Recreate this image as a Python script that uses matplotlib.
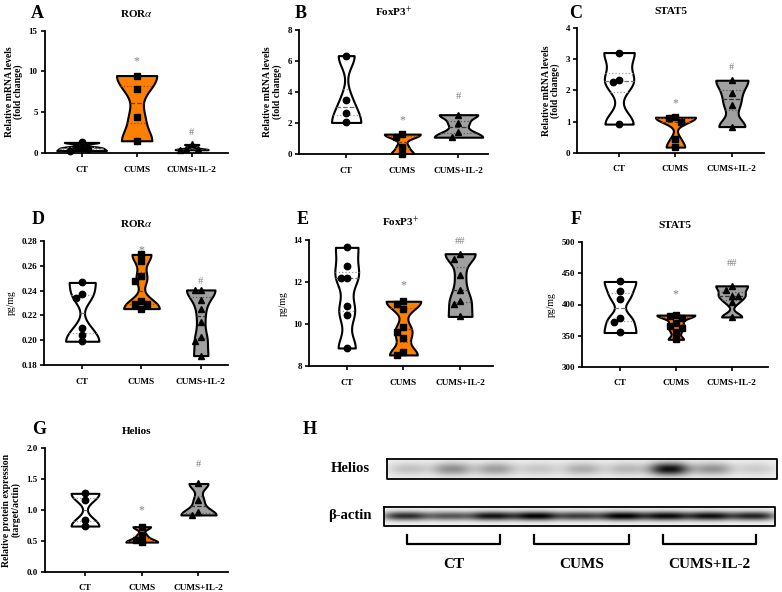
import numpy as np
import matplotlib
matplotlib.use("Agg")
import matplotlib.pyplot as plt
from matplotlib.ticker import FormatStrFormatter

plt.rcParams['font.family'] = ['Liberation Serif', 'DejaVu Serif']
plt.rcParams['mathtext.fontset'] = 'stix'

W, H = 782, 592

groups = ["CT", "CUMS", "CUMS+IL-2"]

# ---- data ----
# A: ROR-alpha mRNA (fold change)
a_ct = [1.3, 0.75, 0.6, 0.5, 0.3]
a_cums = [9.5, 7.8, 4.4, 1.5]
a_il2 = [1.05, 0.55, 0.45, 0.4]
# B: FoxP3+ mRNA
b_ct = [6.35, 3.5, 2.65, 2.05]
b_cums = [1.3, 1.12, 0.5, 0.02]
b_il2 = [2.55, 2.0, 1.45, 1.1]
# C: STAT5 mRNA
c_ct = [3.22, 2.34, 2.28, 0.92]
c_cums = [1.14, 1.12, 1.0, 0.45, 0.18]
c_il2 = [2.33, 1.93, 1.53, 0.84]
# D: ROR-alpha protein (pg/mg)
d_ct = [0.2465, 0.2372, 0.2343, 0.2102, 0.2043, 0.1993]
d_cums = [0.269, 0.264, 0.252, 0.248, 0.232, 0.229, 0.229, 0.2255]
d_il2 = [0.2405, 0.2402, 0.2328, 0.2250, 0.2146, 0.2024, 0.1995, 0.1878]
# E: FoxP3+ protein (pg/mg)
e_ct = [13.65, 12.78, 12.2, 12.2, 10.85, 10.42, 8.87]
e_cums = [11.09, 10.96, 10.72, 9.87, 9.65, 9.33, 8.68, 8.54]
e_il2 = [13.35, 13.08, 12.32, 11.63, 11.12, 10.98, 10.37]
# F: STAT5 protein (pg/mg)
f_ct = [437, 421, 409, 379, 372, 355]
f_cums = [383, 381, 379, 371, 366, 362, 355, 344]
f_il2 = [430, 423, 414, 414, 404, 380]
# G: Helios relative protein expression
g_ct = [1.27, 1.17, 0.84, 0.74]
g_cums = [0.73, 0.59, 0.51, 0.48]
g_il2 = [1.43, 1.16, 0.97, 0.92]

# significance marks: (y of '*' over CUMS, y of '#' over CUMS+IL-2)
sig_a = (11.2, 2.5); sig_b = (2.2, 3.75); sig_c = (1.58, 2.75)
sig_d = (0.2725, 0.2475); sig_e = (11.85, 13.95); sig_f = (416, 466)
sig_g = (1.0, 1.74)

# western blot band darkness per lane (9 lanes: 3 CT, 3 CUMS, 3 CUMS+IL-2)
helios_lanes = [0.18, 0.38, 0.32, 0.16, 0.26, 0.22, 0.88, 0.36, 0.14]
actin_lanes = [0.78, 0.62, 0.88, 0.95, 0.72, 0.95, 0.92, 0.90, 0.82]

# ---- styling ----
FILLS = ['white', '#FF8000', '#A0A0A0']
QCOL = ['#9a9a9a', '#9a4a00', '#555555']
MCOL = ['#707070', '#7a3a00', '#333333']
MARKERS = ['o', 's', '^']
MSIZE = [4.6, 4.2, 4.6]
BW = 0.5
SIGCOL = '#808080'

panels = [
    dict(letter='A', title=r'ROR$\alpha$', data=[a_ct, a_cums, a_il2], ylim=(0, 15), ticks=[0, 5, 10, 15],
         fmt='%d', ylabel='Relative mRNA levels\n(fold change)', ylbold=True, sig=sig_a, marks=('*', '#'),
         box=(44.7, 30.7, 228, 153), xlim=(-0.67, 2.66), widths=[0.9, 0.73, 0.6], lpos=(37, 14)),
    dict(letter='B', title=r'FoxP3$^{+}$', data=[b_ct, b_cums, b_il2], ylim=(0, 8), ticks=[0, 2, 4, 6, 8],
         fmt='%d', ylabel='Relative mRNA levels\n(fold change)', ylbold=True, sig=sig_b, marks=('*', '#'),
         box=(299, 30, 487.7, 154.3), xlim=(-0.84, 2.52), widths=[0.52, 0.64, 0.86], lpos=(301, 14)),
    dict(letter='C', title='STAT5', data=[c_ct, c_cums, c_il2], ylim=(0, 4), ticks=[0, 1, 2, 3, 4],
         fmt='%d', ylabel='Relative mRNA levels\n(fold change)', ylbold=True, sig=sig_c, marks=('*', '#'),
         box=(577.3, 28.3, 764, 152.7), xlim=(-0.74, 2.57), widths=[0.54, 0.71, 0.57], lpos=(576, 14)),
    dict(letter='D', title=r'ROR$\alpha$', data=[d_ct, d_cums, d_il2], ylim=(0.18, 0.28),
         ticks=[0.18, 0.20, 0.22, 0.24, 0.26, 0.28], fmt='%.2f', ylabel='pg/mg', ylbold=False, sig=sig_d,
         marks=('*', '#'), box=(44.3, 240.7, 228, 365.3), xlim=(-0.64, 2.46), widths=[0.56, 0.6, 0.48],
         lpos=(38.5, 220)),
    dict(letter='E', title=r'FoxP3$^{+}$', data=[e_ct, e_cums, e_il2], ylim=(8, 14), ticks=[8, 10, 12, 14],
         fmt='%d', ylabel='pg/mg', ylbold=False, sig=sig_e, marks=('*', '##'),
         box=(309.3, 240, 493, 366.3), xlim=(-0.66, 2.58), widths=[0.42, 0.61, 0.53], lpos=(303, 220)),
    dict(letter='F', title='STAT5', data=[f_ct, f_cums, f_il2], ylim=(300, 500),
         ticks=[300, 350, 400, 450, 500], fmt='%d', ylabel='pg/mg', ylbold=False, sig=sig_f, marks=('*', '##'),
         box=(582, 242.3, 768, 366.7), xlim=(-0.68, 2.65), widths=[0.57, 0.68, 0.57], lpos=(576, 220)),
    dict(letter='G', title='Helios', data=[g_ct, g_cums, g_il2], ylim=(0, 2.0),
         ticks=[0, 0.5, 1.0, 1.5, 2.0], fmt='%.1f', ylabel='Relative protein expression\n(target/actin)',
         ylbold=True, sig=sig_g, marks=('*', '#'), box=(44.7, 448.3, 228, 571.7), xlim=(-0.71, 2.52),
         widths=[0.49, 0.56, 0.62], lpos=(39, 429.5)),
]


def kde_reflect(v, grid, bw):
    lo, hi = v.min(), v.max()
    pts = np.concatenate([v, 2 * lo - v, 2 * hi - v])
    return np.exp(-0.5 * ((grid[:, None] - pts[None, :]) / bw) ** 2).sum(1)


def swarm(v, pxx, pxy, diam):
    order = np.argsort(-v)
    placed = []
    off = np.zeros(len(v))
    for k in order:
        x = 0.0
        for c in [0, -1, 1, -2, 2, -3, 3]:
            x = c * diam / pxx
            if all(((x - px) * pxx) ** 2 + ((v[k] - py) * pxy) ** 2 >= (0.95 * diam) ** 2 for px, py in placed):
                break
        off[k] = x
        placed.append((x, v[k]))
    return off


fig = plt.figure(figsize=(W / 100, H / 100), dpi=100)

for p in panels:
    l, t, r, b = p['box']
    ax = fig.add_axes([l / W, 1 - b / H, (r - l) / W, (b - t) / H])
    ax.set_xlim(*p['xlim'])
    ax.set_ylim(*p['ylim'])
    pxx = (r - l) / (p['xlim'][1] - p['xlim'][0])
    pxy = (b - t) / (p['ylim'][1] - p['ylim'][0])
    for i, vals in enumerate(p['data']):
        v = np.asarray(vals, float)
        lo, hi = v.min(), v.max()
        bw = BW * v.std(ddof=1) * len(v) ** -0.2
        grid = np.linspace(lo, hi, 300)
        dens = kde_reflect(v, grid, bw)
        half = dens / dens.max() * p['widths'][i] / 2
        ax.fill_betweenx(grid, i - half, i + half, facecolor=FILLS[i], edgecolor='black', lw=1.5, zorder=2)
        q1, med, q3 = np.percentile(v, [25, 50, 75])
        for q, ls, col in ((q1, ':', QCOL[i]), (med, '--', MCOL[i]), (q3, ':', QCOL[i])):
            h = np.interp(q, grid, half)
            ax.plot([i - h, i + h], [q, q], ls=ls, color=col, lw=0.9, zorder=3)
        xs = swarm(v, pxx, pxy, 6.0)
        ax.plot(i + xs, v, ls='none', marker=MARKERS[i], color='black', ms=MSIZE[i], clip_on=False, zorder=4)
    ax.text(1, p['sig'][0], p['marks'][0], ha='center', va='center', color=SIGCOL, fontsize=8.5)
    ax.text(2, p['sig'][1], p['marks'][1], ha='center', va='center', color=SIGCOL, fontsize=7.5)

    for s in ('top', 'right'):
        ax.spines[s].set_visible(False)
    for s in ('left', 'bottom'):
        ax.spines[s].set_linewidth(1.3)
    ax.set_xticks([0, 1, 2])
    ax.set_xticklabels(groups, fontsize=6.7, fontweight='bold')
    ax.set_yticks(p['ticks'])
    ax.yaxis.set_major_formatter(FormatStrFormatter(p['fmt']))
    for lab in ax.get_yticklabels():
        lab.set_fontweight('bold')
        lab.set_fontsize(6.5)
    ax.tick_params(direction='out', length=3, width=1.2, pad=2)
    ax.tick_params(axis='x', pad=6)
    ax.set_ylabel(p['ylabel'], fontsize=7, fontweight='bold' if p['ylbold'] else 'normal', labelpad=4,
                  linespacing=1.0)
    ax.set_title(p['title'], fontsize=8, fontweight='bold', pad=10)
    fig.text(p['lpos'][0] / W, 1 - p['lpos'][1] / H, p['letter'], fontsize=13, fontweight='bold',
             ha='center', va='center')

# ---- panel H: western blot ----
fig.text(310 / W, 1 - 430 / H, 'H', fontsize=13, fontweight='bold', ha='center', va='center')
axh = fig.add_axes([0, 0, 1, 1], zorder=-1)
axh.set_xlim(0, W)
axh.set_ylim(H, 0)
axh.axis('off')


def blot(intens, nx, ny, sx, sy, bg, power):
    x = np.arange(nx) + 0.5
    y = np.arange(ny) + 0.5
    lw = nx / len(intens)
    img = np.full((ny, nx), bg)
    for i, a in enumerate(intens):
        cx = (i + 0.5) * lw
        gx = np.exp(-0.5 * np.abs((x - cx) / sx) ** power)
        gy = np.exp(-0.5 * ((y - ny / 2) / sy) ** 2)
        img += a * np.outer(gy, gx)
    return np.clip(img, 0, 1)


hb = (386.7, 459.3, 777.3, 479.0)
ab = (384.0, 506.7, 775.0, 526.0)
img_h = blot(helios_lanes, 390, 20, 15, 4.5, 0.06, 2.5)
img_a = blot(actin_lanes, 390, 20, 18, 3.2, 0.04, 3)
axh.imshow(img_h, cmap='gray_r', vmin=0, vmax=1, extent=(hb[0], hb[2], hb[3], hb[1]), aspect='auto',
           interpolation='bilinear')
axh.imshow(img_a, cmap='gray_r', vmin=0, vmax=1, extent=(ab[0], ab[2], ab[3], ab[1]), aspect='auto',
           interpolation='bilinear')
for bx in (hb, ab):
    axh.plot([bx[0], bx[2], bx[2], bx[0], bx[0]], [bx[1], bx[1], bx[3], bx[3], bx[1]], color='black', lw=1.3)
axh.text(350, 469, 'Helios', fontsize=10.5, fontweight='bold', ha='center', va='center')
axh.text(350, 516, 'β-actin', fontsize=10.5, fontweight='bold', ha='center', va='center')

brackets = [(406.7, 500.0), (534.3, 629.0), (663.3, 755.7)]
for (x0, x1), g in zip(brackets, groups):
    axh.plot([x0, x0, x1, x1], [535, 544, 544, 535], color='black', lw=1.6)
    axh.text((x0 + x1) / 2, 564, g, fontsize=11, fontweight='bold', ha='center', va='center')

fig.savefig('out.png', dpi=100)
